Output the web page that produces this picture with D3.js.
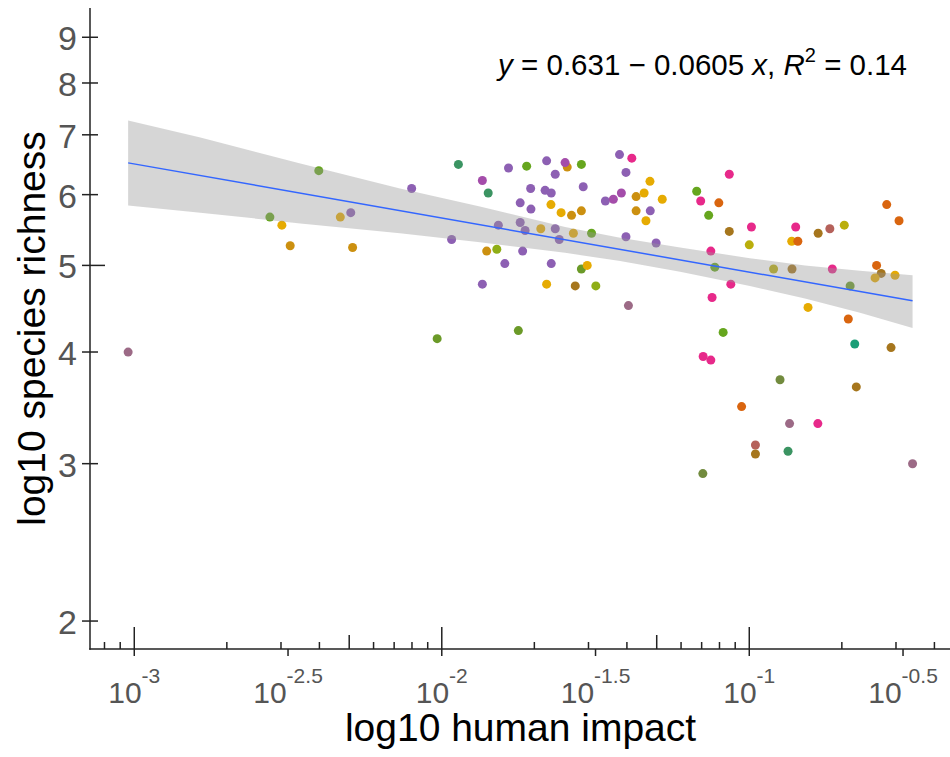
<!DOCTYPE html>
<html>
<head>
<meta charset="utf-8">
<script src="https://cdn.jsdelivr.net/npm/d3@7"></script>
<style>
body { margin: 0; background: #fff; }
svg { display: block; font-family: "Liberation Sans", Arial, sans-serif; }
</style>
</head>
<body>
<div id="chart"></div>
<script>
// values, in log10 units
var logImpact = [-3.02, -2.559, -2.520, -2.493, -2.400, -2.330, -2.296, -2.290, -2.098, -2.015,
  -1.968, -1.946, -1.868, -1.868, -1.854, -1.849, -1.821, -1.816, -1.795, -1.783,
  -1.751, -1.745, -1.745, -1.737, -1.729, -1.724, -1.711, -1.710, -1.678, -1.664,
  -1.659, -1.659, -1.645, -1.644, -1.644, -1.631, -1.631, -1.618, -1.612, -1.592,
  -1.599, -1.578, -1.572, -1.566, -1.546, -1.546, -1.546, -1.540, -1.527, -1.513,
  -1.499, -1.468, -1.442, -1.422, -1.416, -1.401, -1.401, -1.393, -1.382, -1.368,
  -1.368, -1.342, -1.336, -1.323, -1.322, -1.303, -1.283, -1.171, -1.158, -1.151,
  -1.150, -1.132, -1.125, -1.125, -1.121, -1.112, -1.099, -1.085, -1.065, -1.065,
  -1.060, -1.025, -1.000, -0.993, -0.980, -0.980, -0.921, -0.900, -0.874, -0.869,
  -0.862, -0.861, -0.849, -0.842, -0.809, -0.777, -0.776, -0.738, -0.730, -0.691,
  -0.678, -0.672, -0.657, -0.652, -0.586, -0.571, -0.591, -0.553, -0.539, -0.526,
  -0.513, -0.469];
var logRichness = [0.602, 0.753, 0.744, 0.721, 0.805, 0.753, 0.758, 0.719, 0.785, 0.617,
  0.728, 0.812, 0.794, 0.678, 0.715, 0.780, 0.717, 0.744, 0.701, 0.808,
  0.626, 0.769, 0.747, 0.715, 0.738, 0.810, 0.785, 0.762, 0.740, 0.783,
  0.816, 0.678, 0.767, 0.780, 0.701, 0.801, 0.740, 0.728, 0.758, 0.809,
  0.814, 0.755, 0.735, 0.676, 0.812, 0.760, 0.695, 0.787, 0.699, 0.735,
  0.676, 0.771, 0.773, 0.823, 0.780, 0.803, 0.731, 0.654, 0.819, 0.776,
  0.760, 0.780, 0.749, 0.793, 0.760, 0.724, 0.773, 0.782, 0.771, 0.466,
  0.597, 0.755, 0.593, 0.715, 0.663, 0.697, 0.769, 0.624, 0.801, 0.737,
  0.678, 0.541, 0.722, 0.742, 0.498, 0.488, 0.695, 0.571, 0.491, 0.522,
  0.726, 0.695, 0.742, 0.726, 0.652, 0.522, 0.735, 0.740, 0.695, 0.744,
  0.639, 0.676, 0.611, 0.563, 0.699, 0.690, 0.685, 0.767, 0.607, 0.688,
  0.749, 0.477];
var siteGroup = ["mauve", "green", "gold", "darkgold", "green", "gold", "purple", "darkgold", "purple", "olive",
  "purple", "tealgreen", "magpurple", "purple", "darkgold", "tealgreen", "lightgreen", "purple", "purple", "purple",
  "olive", "purple", "purple", "purple", "purple", "green", "purple", "purple", "gold", "purple",
  "purple", "gold", "gold", "purple", "purple", "purple", "purple", "purple", "gold", "darkgold",
  "magpurple", "darkgold", "gold", "brown", "green", "darkgold", "olive", "purple", "gold", "green",
  "lightgreen", "purple", "magpurple", "purple", "magpurple", "purple", "purple", "mauve", "magenta", "darkgold",
  "darkgold", "gold", "gold", "gold", "purple", "purple", "gold", "green", "magenta", "olivedark",
  "magenta", "green", "magenta", "magenta", "magenta", "green", "orange", "green", "magenta", "brown",
  "magenta", "orange", "yellowolive", "magenta", "brownred", "brown", "yellowolive", "olivedark", "tealgreen", "mauve",
  "gold", "brown", "magenta", "orange", "gold", "magenta", "brown", "brownred", "magenta", "yellowolive",
  "orange", "olive", "teal", "brown", "orange", "brown", "gold", "orange", "brown", "gold",
  "orange", "mauve"];
var groupColors = {
  purple: "#8D60B3", magpurple: "#A44DAA", magenta: "#E7298A", mauve: "#9C6A86",
  green: "#66A61E", lightgreen: "#8FAE16", olive: "#6B9A28", olivedark: "#728B3E",
  tealgreen: "#3B9462", teal: "#1B9E77", yellowolive: "#BAAE0C", gold: "#E6AB02",
  darkgold: "#CC9010", brown: "#A6761D", orange: "#D9650F", brownred: "#B5615A"
};

// fitted line and its confidence band (log10 units)
var fitIntercept = 0.631, fitSlope = -0.0605, fitR2 = 0.14;
var bandLogImpact = [-3.02, -2.785, -2.46, -2.136, -1.876, -1.599, -1.42, -1.225, -0.998, -0.819, -0.64, -0.469];
var bandLower = [0.766, 0.758, 0.746, 0.735, 0.725, 0.713, 0.704, 0.692, 0.676, 0.662, 0.646, 0.629];
var bandUpper = [0.861, 0.842, 0.813, 0.785, 0.765, 0.742, 0.730, 0.719, 0.707, 0.699, 0.693, 0.688];

// axis breaks
var xTickExps = [-3, -2.5, -2, -1.5, -1, -0.5];
var yTicks = [2, 3, 4, 5, 6, 7, 8, 9];

var width = 950, height = 757;
var panelLeft = 90, panelRight = 951, panelTop = 8, panelBottom = 649;

var svg = d3.select("#chart").append("svg")
  .attr("width", width)
  .attr("height", height);

var x = d3.scaleLog().domain([Math.pow(10, -3.144), Math.pow(10, -0.344)]).range([panelLeft, panelRight]);
var y = d3.scaleLog().domain([1.861, 9.705]).range([panelBottom, panelTop]);

var points = logImpact.map(function(e, i) {
  return {x: Math.pow(10, e), y: Math.pow(10, logRichness[i]), g: siteGroup[i]};
});
var band = bandLogImpact.map(function(e, i) {
  return {x: Math.pow(10, e), lo: Math.pow(10, bandLower[i]), hi: Math.pow(10, bandUpper[i])};
});

//points (drawn under the band like ggplot's layer order)
svg.append("g").selectAll("circle")
  .data(points)
  .enter().append("circle")
  .attr("cx", function(d) { return x(d.x); })
  .attr("cy", function(d) { return y(d.y); })
  .attr("r", 4.5)
  .attr("fill", function(d) { return groupColors[d.g]; });

//confidence band
svg.append("path")
  .datum(band)
  .attr("d", d3.area()
    .x(function(d) { return x(d.x); })
    .y0(function(d) { return y(d.lo); })
    .y1(function(d) { return y(d.hi); }))
  .attr("fill", "#999999")
  .attr("fill-opacity", 0.4);

//regression line
var lineEnds = [bandLogImpact[0], bandLogImpact[bandLogImpact.length - 1]];
svg.append("path")
  .datum(lineEnds)
  .attr("d", d3.line()
    .x(function(e) { return x(Math.pow(10, e)); })
    .y(function(e) { return y(Math.pow(10, fitIntercept + fitSlope * e)); }))
  .attr("stroke", "#3366FF")
  .attr("stroke-width", 1.5)
  .attr("fill", "none");

//axis lines
var axisColor = "#222";
svg.append("line").attr("x1", panelLeft).attr("x2", panelLeft).attr("y1", panelTop).attr("y2", panelBottom + 0.75)
  .attr("stroke", axisColor).attr("stroke-width", 1.5);
svg.append("line").attr("x1", panelLeft - 0.75).attr("x2", panelRight).attr("y1", panelBottom).attr("y2", panelBottom)
  .attr("stroke", axisColor).attr("stroke-width", 1.5);

//log ticks inside the panel (short / mid / long)
var logTickLen = function(k) { return k === 1 ? 22 : (k === 5 ? 14 : 7); };
var xd = x.domain();
for (var dec = Math.floor(Math.log10(xd[0])); dec <= Math.ceil(Math.log10(xd[1])); dec++) {
  for (var k = 1; k <= 9; k++) {
    var v = k * Math.pow(10, dec);
    if (v < xd[0] || v > xd[1]) continue;
    svg.append("line")
      .attr("x1", x(v)).attr("x2", x(v))
      .attr("y1", panelBottom).attr("y2", panelBottom - logTickLen(k))
      .attr("stroke", axisColor).attr("stroke-width", 1.5);
  }
}
var yd = y.domain();
for (var dec = Math.floor(Math.log10(yd[0])); dec <= Math.ceil(Math.log10(yd[1])); dec++) {
  for (var k = 1; k <= 9; k++) {
    var v = k * Math.pow(10, dec);
    if (v < yd[0] || v > yd[1]) continue;
    svg.append("line")
      .attr("x1", panelLeft).attr("x2", panelLeft + logTickLen(k) + 1)
      .attr("y1", y(v)).attr("y2", y(v))
      .attr("stroke", axisColor).attr("stroke-width", 1.5);
  }
}

//x axis ticks + labels (10^k)
var xt = svg.append("g").selectAll("g")
  .data(xTickExps)
  .enter().append("g")
  .attr("transform", function(e) { return "translate(" + x(Math.pow(10, e)) + ",0)"; });
xt.append("line")
  .attr("y1", panelBottom).attr("y2", panelBottom + 7)
  .attr("stroke", axisColor).attr("stroke-width", 1.5);
var xlab = xt.append("text")
  .attr("y", 703)
  .attr("text-anchor", "middle")
  .attr("fill", "#555")
  .style("font-size", "30px");
xlab.append("tspan").text("10");
xlab.append("tspan")
  .attr("dy", -20)
  .style("font-size", "21px")
  .text(function(e) { return String(e); });

//y axis ticks + labels
var yt = svg.append("g").selectAll("g")
  .data(yTicks)
  .enter().append("g")
  .attr("transform", function(d) { return "translate(0," + y(d) + ")"; });
yt.append("line")
  .attr("x1", panelLeft - 8).attr("x2", panelLeft)
  .attr("stroke", axisColor).attr("stroke-width", 1.5);
yt.append("text")
  .attr("x", 77)
  .attr("y", 13)
  .attr("text-anchor", "end")
  .attr("fill", "#555")
  .style("font-size", "34px")
  .text(function(d) { return d; });

//axis titles
svg.append("text")
  .attr("x", (panelLeft + panelRight) / 2)
  .attr("y", 741)
  .attr("text-anchor", "middle")
  .style("font-size", "39px")
  .attr("fill", "#000")
  .text("log10 human impact");
svg.append("text")
  .attr("transform", "translate(45," + (panelTop + panelBottom) / 2 + ") rotate(-90)")
  .attr("text-anchor", "middle")
  .style("font-size", "39px")
  .attr("fill", "#000")
  .text("log10 species richness");

//equation label
var eq = svg.append("text")
  .attr("x", 907)
  .attr("y", 75)
  .attr("text-anchor", "end")
  .style("font-size", "29.5px")
  .attr("fill", "#000");
eq.append("tspan").style("font-style", "italic").text("y");
eq.append("tspan").text(" = " + fitIntercept + " \u2212 " + Math.abs(fitSlope) + " ");
eq.append("tspan").style("font-style", "italic").text("x");
eq.append("tspan").text(", ");
eq.append("tspan").style("font-style", "italic").text("R");
eq.append("tspan").attr("dy", -13).style("font-size", "20px").text("2");
eq.append("tspan").attr("dy", 13).text(" = " + fitR2);
</script>
</body>
</html>
